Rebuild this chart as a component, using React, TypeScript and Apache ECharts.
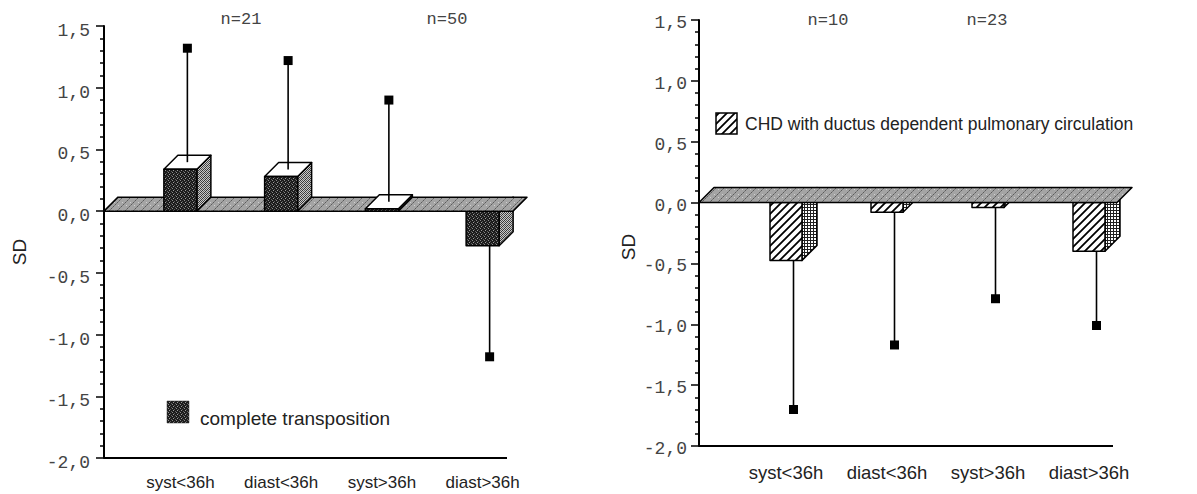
import React, { useEffect, useRef } from "react";
import * as echarts from "echarts";

// ---------- data ----------
const categories = ["syst<36h", "diast<36h", "syst>36h", "diast>36h"];
// complete transposition (left panel): mean SD and whisker end
const transpositionMean = [0.34, 0.28, 0.02, -0.28];
const transpositionWhisker = [1.32, 1.22, 0.9, -1.18];
// CHD with ductus dependent pulmonary circulation (right panel)
const ductusMean = [-0.475, -0.08, -0.04, -0.4];
const ductusWhisker = [-1.7, -1.17, -0.79, -1.01];
const yMin = -2;
const yMax = 1.5;
const yInterval = 0.5;
const leftSampleLabels = ["n=21", "n=50"];
const rightSampleLabels = ["n=10", "n=23"];
const leftLegend = "complete transposition";
const rightLegend = "CHD with ductus dependent pulmonary circulation";
const yAxisName = "SD";

// ---------- patterns ----------
function makePattern(w: number, h: number, draw: (ctx: CanvasRenderingContext2D) => void) {
  const c = document.createElement("canvas");
  c.width = w;
  c.height = h;
  const ctx = c.getContext("2d")!;
  draw(ctx);
  return { image: c, repeat: "repeat", imageWidth: w, imageHeight: h } as any;
}

function px(ctx: CanvasRenderingContext2D, x: number, y: number, color: string) {
  ctx.fillStyle = color;
  ctx.fillRect(x, y, 1, 1);
}

function buildPatterns() {
  const dark = makePattern(4, 4, (ctx) => {
    ctx.fillStyle = "#1c1c1c";
    ctx.fillRect(0, 0, 4, 4);
    px(ctx, 0, 0, "#8a8a8a");
    px(ctx, 2, 1, "#5a5a5a");
    px(ctx, 1, 2, "#9a9a9a");
    px(ctx, 3, 3, "#606060");
  });
  const mid = makePattern(4, 4, (ctx) => {
    ctx.fillStyle = "#c8c8c8";
    ctx.fillRect(0, 0, 4, 4);
    px(ctx, 0, 0, "#333");
    px(ctx, 2, 0, "#555");
    px(ctx, 1, 1, "#444");
    px(ctx, 3, 1, "#333");
    px(ctx, 0, 2, "#555");
    px(ctx, 2, 2, "#333");
    px(ctx, 1, 3, "#333");
    px(ctx, 3, 3, "#666");
  });
  const floor = makePattern(8, 8, (ctx) => {
    ctx.fillStyle = "#a4a4a4";
    ctx.fillRect(0, 0, 8, 8);
    for (let i = 0; i < 8; i++) px(ctx, i, 7 - i, "#5c5c5c");
    for (let i = 0; i < 8; i += 2) px(ctx, (i + 4) % 8, (11 - i) % 8, "#7a7a7a");
    px(ctx, 2, 2, "#d0d0d0");
    px(ctx, 6, 5, "#d0d0d0");
  });
  const hatch = makePattern(8, 8, (ctx) => {
    ctx.fillStyle = "#ffffff";
    ctx.fillRect(0, 0, 8, 8);
    ctx.strokeStyle = "#000";
    ctx.lineWidth = 1.8;
    ctx.beginPath();
    ctx.moveTo(-1, 9);
    ctx.lineTo(9, -1);
    ctx.moveTo(-5, 5);
    ctx.lineTo(5, -5);
    ctx.moveTo(3, 13);
    ctx.lineTo(13, 3);
    ctx.stroke();
  });
  const grid = makePattern(3, 3, (ctx) => {
    ctx.fillStyle = "#ffffff";
    ctx.fillRect(0, 0, 3, 3);
    ctx.fillStyle = "#222";
    ctx.fillRect(0, 0, 3, 1);
    ctx.fillRect(0, 0, 1, 3);
  });
  return { dark, mid, floor, hatch, grid };
}

type Cfg = {
  barW: number;
  depth: number;
  axisOffset: number;
  floorInset: number;
  axisInset: number;
  front: any;
  side: any;
  top: any;
  floor: any;
};

const STROKE = { stroke: "#000", lineWidth: 1.5, lineJoin: "round" };

function barRenderer(cfg: Cfg, positive: boolean) {
  return (params: any, api: any) => {
    const i = api.value(0);
    const v = api.value(1);
    if (positive ? v < 0 : v >= 0) return null;
    const c = api.coord([i, v]);
    const z = api.coord([i, 0]);
    const w = cfg.barW;
    const d = cfg.depth;
    const xl = c[0] - w / 2;
    const xr = c[0] + w / 2;
    const yv = c[1];
    const y0 = z[1];
    const children: any[] = [];
    if (v >= 0) {
      children.push({
        type: "polygon",
        shape: { points: [[xr, yv], [xr + d, yv - d], [xr + d, y0 - d], [xr, y0]] },
        style: { fill: cfg.side, ...STROKE },
      });
      children.push({
        type: "polygon",
        shape: { points: [[xl, yv], [xl + d, yv - d], [xr + d, yv - d], [xr, yv]] },
        style: { fill: cfg.top, ...STROKE },
      });
      children.push({
        type: "rect",
        shape: { x: xl, y: yv, width: w, height: y0 - yv },
        style: { fill: cfg.front, ...STROKE },
      });
    } else {
      children.push({
        type: "polygon",
        shape: { points: [[xr, y0], [xr + d, y0 - d], [xr + d, yv - d], [xr, yv]] },
        style: { fill: cfg.side, ...STROKE },
      });
      children.push({
        type: "rect",
        shape: { x: xl, y: y0, width: w, height: yv - y0 },
        style: { fill: cfg.front, ...STROKE },
      });
    }
    return { type: "group", children };
  };
}

function whiskerRenderer(cfg: Cfg) {
  return (params: any, api: any) => {
    const i = api.value(0);
    const v = api.value(1);
    const e = api.value(2);
    const cv = api.coord([i, v]);
    const ce = api.coord([i, e]);
    const x = cv[0] + cfg.depth / 2;
    const ys = v >= 0 ? cv[1] - cfg.depth / 2 : cv[1];
    return {
      type: "group",
      children: [
        { type: "line", shape: { x1: x, y1: ys, x2: x, y2: ce[1] }, style: { stroke: "#000", lineWidth: 1.6 } },
        { type: "rect", shape: { x: x - 4.5, y: ce[1] - 4.5, width: 9, height: 9 }, style: { fill: "#000" } },
      ],
    };
  };
}

function floorRenderer(cfg: Cfg) {
  return (params: any, api: any) => {
    const cs = params.coordSys;
    const z = api.coord([0, 0]);
    const ax = cs.x - cfg.axisOffset;
    const right = cs.x + cs.width;
    const d = cfg.depth;
    const y0 = z[1];
    const fe = right - cfg.floorInset;
    const bottom = cs.y + cs.height;
    return {
      type: "group",
      children: [
        {
          type: "polygon",
          shape: { points: [[ax, y0], [ax + d, y0 - d], [fe + d, y0 - d], [fe, y0]] },
          style: { fill: cfg.floor, ...STROKE },
        },
        {
          type: "line",
          shape: { x1: ax, y1: bottom, x2: right - cfg.axisInset, y2: bottom },
          style: { stroke: "#000", lineWidth: 2 },
        },
      ],
    };
  };
}

const labelFmt = (v: number) => v.toFixed(1).replace(".", ",");

function yAxisCfg(gridIndex: number, offset: number, margin: number, lineHeight: number) {
  return {
    gridIndex,
    type: "value",
    min: yMin,
    max: yMax,
    interval: yInterval,
    offset,
    axisLine: { show: true, onZero: false, lineStyle: { color: "#000", width: 2 } },
    axisTick: { show: true, length: 8, lineStyle: { color: "#000", width: 1.5 } },
    minorTick: { show: true, splitNumber: 5, length: 4, lineStyle: { color: "#000", width: 1.5 } },
    splitLine: { show: false },
    minorSplitLine: { show: false },
    axisLabel: {
      formatter: labelFmt,
      fontFamily: "Liberation Mono",
      fontSize: 18,
      color: "#444",
      margin,
      verticalAlign: "top",
      lineHeight,
    },
  };
}

function xAxisCfg(gridIndex: number, fontSize: number, margin: number) {
  return {
    gridIndex,
    type: "category",
    data: categories,
    axisLine: { show: false },
    axisTick: { show: false },
    splitLine: { show: false },
    axisLabel: { fontFamily: "Liberation Sans", fontSize, color: "#222", margin, interval: 0 },
  };
}

export default function App() {
  const ref = useRef<HTMLDivElement>(null);
  useEffect(() => {
    if (!ref.current) return;
    const chart = echarts.init(ref.current, undefined, { renderer: "svg" });
    const P = buildPatterns();
    const leftCfg: Cfg = {
      barW: 33, depth: 14, axisOffset: 26, floorInset: 20, axisInset: 26,
      front: P.dark, side: P.mid, top: "#fff", floor: P.floor,
    };
    const rightCfg: Cfg = {
      barW: 32, depth: 15, axisOffset: 36.5, floorInset: 22.5, axisInset: 26.5,
      front: P.hatch, side: P.grid, top: "#fff", floor: P.floor,
    };
    const leftBars = categories.map((c, i) => [i, transpositionMean[i]]);
    const leftWh = categories.map((c, i) => [i, transpositionMean[i], transpositionWhisker[i]]);
    const rightBars = categories.map((c, i) => [i, ductusMean[i]]);
    const rightWh = categories.map((c, i) => [i, ductusMean[i], ductusWhisker[i]]);

    const panelSeries = (idx: number, cfg: Cfg, bars: any[], wh: any[]) => [
      { type: "custom", xAxisIndex: idx, yAxisIndex: idx, z: 2, renderItem: barRenderer(cfg, false), data: bars, encode: { x: 0, y: 1 } },
      { type: "custom", xAxisIndex: idx, yAxisIndex: idx, z: 3, renderItem: floorRenderer(cfg), data: [[0, 0]], encode: { x: 0, y: 1 } },
      { type: "custom", xAxisIndex: idx, yAxisIndex: idx, z: 4, renderItem: barRenderer(cfg, true), data: bars, encode: { x: 0, y: 1 } },
      { type: "custom", xAxisIndex: idx, yAxisIndex: idx, z: 5, renderItem: whiskerRenderer(cfg), data: wh, encode: { x: 0, y: [1, 2] } },
    ];

    const mono = { fontFamily: "Liberation Mono", fontSize: 17, fill: "#444" };
    const sans = { fontFamily: "Liberation Sans", fill: "#222" };

    chart.setOption({
      animation: false,
      backgroundColor: "#fff",
      grid: [
        { left: 130, top: 26, width: 403, height: 432 },
        { left: 735.5, top: 20, width: 404, height: 426 },
      ],
      xAxis: [xAxisCfg(0, 17, 16), xAxisCfg(1, 18.5, 17)],
      yAxis: [yAxisCfg(0, 26, 14, 10), yAxisCfg(1, 36.5, 12, 6)],
      series: [...panelSeries(0, leftCfg, leftBars, leftWh), ...panelSeries(1, rightCfg, rightBars, rightWh)],
      graphic: [
        { type: "text", x: 241, y: 19, style: { text: leftSampleLabels[0], ...mono, align: "center", verticalAlign: "middle" } },
        { type: "text", x: 447, y: 19, style: { text: leftSampleLabels[1], ...mono, align: "center", verticalAlign: "middle" } },
        { type: "text", x: 828, y: 20, style: { text: rightSampleLabels[0], ...mono, align: "center", verticalAlign: "middle" } },
        { type: "text", x: 987, y: 20, style: { text: rightSampleLabels[1], ...mono, align: "center", verticalAlign: "middle" } },
        { type: "text", x: 19, y: 252, rotation: Math.PI / 2, style: { text: yAxisName, ...sans, fontSize: 19, align: "center", verticalAlign: "middle" } },
        { type: "text", x: 628, y: 247, rotation: Math.PI / 2, style: { text: yAxisName, ...sans, fontSize: 19, align: "center", verticalAlign: "middle" } },
        { type: "rect", shape: { x: 167, y: 401, width: 22, height: 22 }, style: { fill: P.dark, stroke: "#333", lineWidth: 0.5 } },
        { type: "text", x: 200, y: 418, style: { text: leftLegend, ...sans, fontSize: 19, align: "left", verticalAlign: "middle" } },
        { type: "rect", shape: { x: 716, y: 113, width: 21, height: 21 }, style: { fill: P.hatch, stroke: "#000", lineWidth: 1.5 } },
        { type: "text", x: 745, y: 124, style: { text: rightLegend, ...sans, fontSize: 17.5, align: "left", verticalAlign: "middle" } },
      ],
    });
    return () => chart.dispose();
  }, []);
  return (
    <div
      ref={ref}
      style={{ position: "fixed", left: 0, top: 0, width: 1197, height: 494, background: "#fff" }}
    />
  );
}
